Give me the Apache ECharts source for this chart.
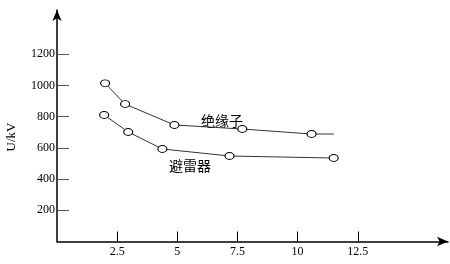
<!DOCTYPE html>
<html><head><meta charset="utf-8">
<script src="https://cdn.jsdelivr.net/npm/echarts@6/dist/echarts.min.js"></script>
<style>html,body{margin:0;padding:0;background:#fff}#c{width:450px;height:264px}</style>
</head><body><div id="c"></div>
<script>
const xTicks = [2.5, 5, 7.5, 10, 12.5];
const yTicks = [200, 400, 600, 800, 1000, 1200];
const insulatorX = [2.0, 2.83, 4.88, 7.7, 10.58, 11.5];
const insulatorY = [1014, 881, 747, 721, 689, 689];
const arresterX = [1.96, 2.96, 4.38, 7.17, 11.5];
const arresterY = [811, 702, 593, 548, 535];
const seriesNames = ['绝缘子', '避雷器'];
const yName = 'U/kV';

const serif = 'Liberation Serif';

const insData = insulatorX.map((x, i) => {
  const d = { value: [x, insulatorY[i]] };
  if (i === insulatorX.length - 1) d.symbol = 'none';
  return d;
});
const arrData = arresterX.map((x, i) => [x, arresterY[i]]);

const chart = echarts.init(document.getElementById('c'));
const axisLine = { show: true, lineStyle: { color: '#000', width: 1.5 }, symbol: ['none', 'arrow'], symbolSize: [7, 11], onZero: false };
const markStyle = { color: '#fff', borderColor: '#000', borderWidth: 1 };
chart.setOption({
  animation: false,
  grid: { left: 57, right: 2, top: 10, bottom: 22.5 },
  xAxis: {
    type: 'value', min: 0, max: 16.25,
    axisLine: axisLine,
    splitLine: { show: false },
    axisTick: { show: true, inside: true, length: 10, customValues: xTicks, lineStyle: { color: '#000', width: 1 } },
    axisLabel: { customValues: xTicks, margin: 4, color: '#000', fontFamily: serif, fontSize: 12, formatter: v => String(v) }
  },
  yAxis: {
    type: 'value', min: 0, max: 1484,
    axisLine: axisLine,
    splitLine: { show: false },
    axisTick: { show: true, inside: true, length: 12, customValues: yTicks, lineStyle: { color: '#555', width: 1 } },
    axisLabel: { customValues: yTicks, margin: 2, color: '#000', fontFamily: serif, fontSize: 12, formatter: v => String(v) }
  },
  graphic: [
    { type: 'text', x: 12, y: 137, rotation: Math.PI / 2, style: { text: yName, font: '13px "Liberation Serif"', fill: '#000', align: 'center', verticalAlign: 'middle' } },
    { type: 'text', x: 222, y: 121, style: { text: seriesNames[0], font: '14px "Noto Sans CJK SC"', fill: '#000', align: 'center', verticalAlign: 'middle' } },
    { type: 'text', x: 190, y: 166, style: { text: seriesNames[1], font: '14px "Noto Sans CJK SC"', fill: '#000', align: 'center', verticalAlign: 'middle' } }
  ],
  series: [
    { name: seriesNames[0], type: 'line', data: insData, symbol: 'circle', symbolSize: [9, 7], showAllSymbol: true,
      lineStyle: { color: '#333', width: 1 }, itemStyle: markStyle, z: 3 },
    { name: seriesNames[1], type: 'line', data: arrData, symbol: 'circle', symbolSize: [9, 7], showAllSymbol: true,
      lineStyle: { color: '#333', width: 1 }, itemStyle: markStyle, z: 3 }
  ]
});
</script></body></html>
